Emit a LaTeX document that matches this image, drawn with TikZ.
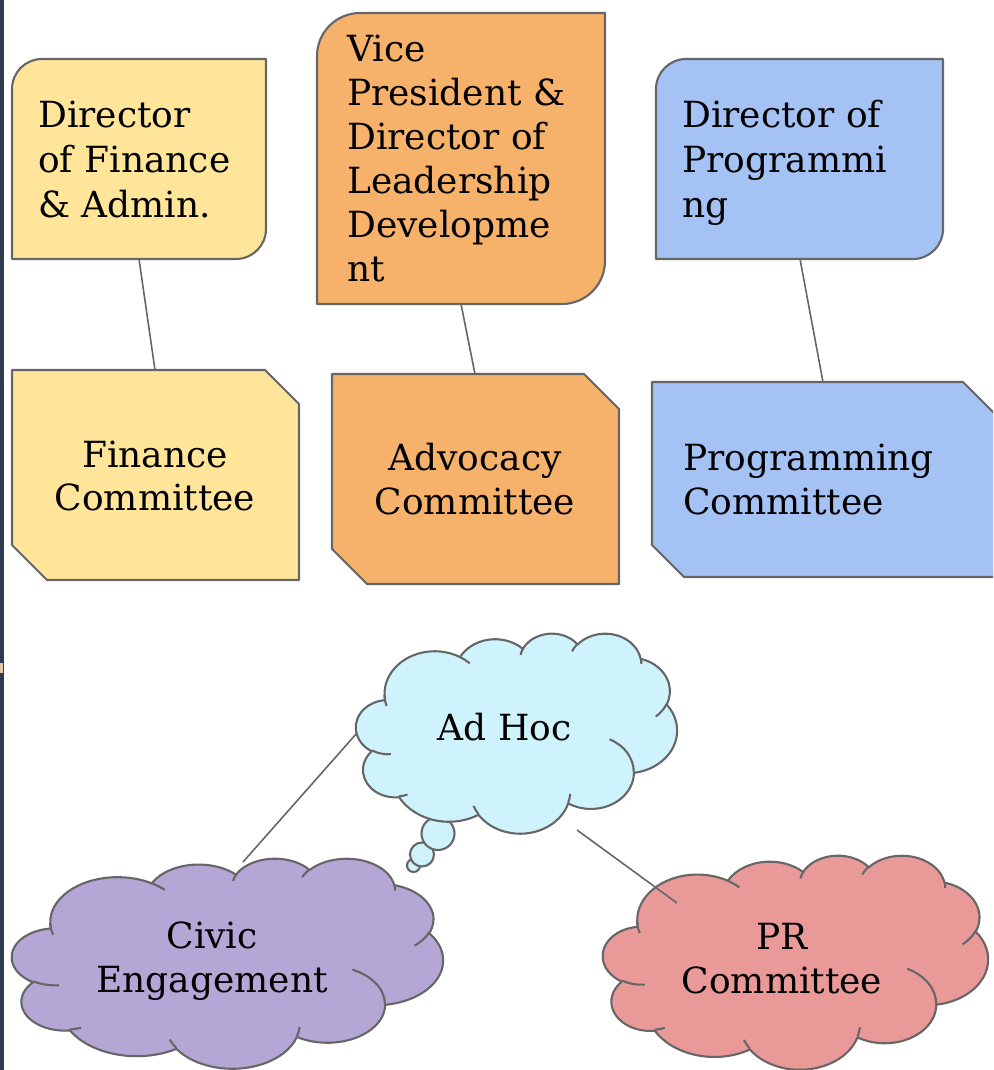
\documentclass[tikz,border=0pt]{standalone}
\usepackage{fontspec}
\setmainfont{DejaVu Serif}
\definecolor{yellowF}{HTML}{FFE599}
\definecolor{orangeF}{HTML}{F6B26B}
\definecolor{blueF}{HTML}{A4C2F4}
\definecolor{cyanF}{HTML}{CFF3FC}
\definecolor{purpleF}{HTML}{B4A7D6}
\definecolor{redF}{HTML}{EA9999}
\definecolor{lineC}{HTML}{666666}
\definecolor{stripC}{HTML}{2E3A4F}
\definecolor{beigeC}{HTML}{E6C8A6}
% visual (OOXML) angles -> parametric angles for elliptical arcs
\newcommand\ooang[5]{%
  \pgfmathsetmacro\ooTs{atan2((#2)*sin(#4),(#3)*cos(#4))}%
  \pgfmathsetmacro\ooTe{atan2((#2)*sin((#4)+(#5)),(#3)*cos((#4)+(#5)))}%
  \pgfmathsetmacro\ooTe{(\ooTe<\ooTs)?(\ooTe+360):(\ooTe)}%
  \expandafter\let\csname ooS#1\endcsname\ooTs
  \expandafter\let\csname ooE#1\endcsname\ooTe}
\ooang{a}{67.53}{91.90}{-190.4875}{123.7805}
\ooang{b}{53.33}{72.67}{-144.1024}{89.9452}
\ooang{c}{43.65}{59.45}{-145.8079}{99.7230}
\ooang{d}{48.57}{65.95}{-130.9861}{117.2417}
\ooang{e}{53.33}{72.73}{-78.7089}{109.0269}
\ooang{f}{67.75}{92.20}{-46.2673}{130.2690}
\ooang{g}{57.85}{78.67}{0.6250}{114.0333}
\ooang{h}{67.52}{92.15}{22.4516}{115.1726}
\ooang{i}{77.20}{105.43}{66.2426}{75.7110}
\ooang{j}{43.60}{59.18}{-274.9421}{146.7356}
\ooang{k}{43.45}{59.45}{-246.8285}{152.5189}
\ooang{l}{43.45}{59.45}{86.7420}{26.4295}
\ooang{m}{43.60}{59.18}{73.6105}{11.4475}
\ooang{n}{67.52}{92.15}{137.6242}{14.0811}
\ooang{o}{67.52}{92.15}{6.4533}{15.9984}
\ooang{p}{57.85}{78.67}{-70.2924}{70.9174}
\ooang{q}{53.33}{72.73}{30.3180}{27.7515}
\ooang{r}{48.57}{65.95}{-13.7443}{14.8589}
\ooang{s}{48.57}{65.95}{-149.1815}{18.1954}
\ooang{t}{43.65}{59.45}{-163.4943}{17.6864}
\ooang{u}{67.53}{91.90}{-66.7070}{12.3194}
\ooang{v}{67.53}{91.90}{156.6201}{20.6070}
\newcommand\cloudmain{(39.00,143.70)
 arc[start angle=\ooSa,end angle=\ooEa,x radius=67.53,y radius=91.90]
 arc[start angle=\ooSb,end angle=\ooEb,x radius=53.33,y radius=72.67]
 arc[start angle=\ooSc,end angle=\ooEc,x radius=43.65,y radius=59.45]
 arc[start angle=\ooSd,end angle=\ooEd,x radius=48.57,y radius=65.95]
 arc[start angle=\ooSe,end angle=\ooEe,x radius=53.33,y radius=72.73]
 arc[start angle=\ooSf,end angle=\ooEf,x radius=67.75,y radius=92.20]
 arc[start angle=\ooSg,end angle=\ooEg,x radius=57.85,y radius=78.67]
 arc[start angle=\ooSh,end angle=\ooEh,x radius=67.52,y radius=92.15]
 arc[start angle=\ooSi,end angle=\ooEi,x radius=77.20,y radius=105.43]
 arc[start angle=\ooSj,end angle=\ooEj,x radius=43.60,y radius=59.18]
 arc[start angle=\ooSk,end angle=\ooEk,x radius=43.45,y radius=59.45]
 -- cycle}
\newcommand\cloudinner{
 (46.93,261.77) arc[start angle=\ooSl,end angle=\ooEl,x radius=43.45,y radius=59.45]
 (69.28,348.99) arc[start angle=\ooSm,end angle=\ooEm,x radius=43.60,y radius=59.18]
 (164.78,390.90) arc[start angle=\ooSn,end angle=\ooEn,x radius=67.52,y radius=92.15]
 (288.27,347.51) arc[start angle=\ooSo,end angle=\ooEo,x radius=67.52,y radius=92.15]
 (341.29,229.54) arc[start angle=\ooSp,end angle=\ooEp,x radius=57.85,y radius=78.67]
 (417.98,153.54) arc[start angle=\ooSq,end angle=\ooEq,x radius=53.33,y radius=72.73]
 (383.24,54.26) arc[start angle=\ooSr,end angle=\ooEr,x radius=48.57,y radius=65.95]
 (290.78,39.52) arc[start angle=\ooSs,end angle=\ooEs,x radius=48.57,y radius=65.95]
 (221.41,47.20) arc[start angle=\ooSt,end angle=\ooEt,x radius=43.65,y radius=59.45]
 (140.00,51.92) arc[start angle=\ooSu,end angle=\ooEu,x radius=67.53,y radius=91.90]
 (41.27,157.89) arc[start angle=\ooSv,end angle=\ooEv,x radius=67.53,y radius=91.90]}
% x0, y0, width, height, fill
\newcommand\drawcloud[5]{%
  \begin{scope}[shift={(#1,#2)},xscale=#3/432,yscale=#4/432]
    \filldraw[shapeline,fill=#5] \cloudmain;
    \draw[shapeline] \cloudinner;
  \end{scope}}
\begin{document}
\begin{tikzpicture}[x=1pt,y=-1pt,
  shapeline/.style={draw=lineC,line width=2.1pt,line join=round},
  conn/.style={draw=lineC,line width=1.6pt},
  lbl/.style={inner sep=0pt,font=\fontsize{36}{44}\selectfont,text=black}]
\useasboundingbox (0,0) rectangle (993,1070);
\clip (0,0) rectangle (993,1070);
\fill[stripC] (0,0) rectangle (4,1070);
\fill[beigeC] (0,663) rectangle (3,673);

% ---- top boxes (rounded top-left and bottom-right corners)
\filldraw[shapeline,fill=yellowF] (12,259) -- (12,89) arc[start angle=180,end angle=270,radius=30]
  -- (266,59) -- (266,229) arc[start angle=0,end angle=90,radius=30] -- cycle;
\filldraw[shapeline,fill=orangeF] (317,304) -- (317,56) arc[start angle=180,end angle=270,radius=43]
  -- (605,13) -- (605,261) arc[start angle=0,end angle=90,radius=43] -- cycle;
\filldraw[shapeline,fill=blueF] (656,259) -- (656,89) arc[start angle=180,end angle=270,radius=30]
  -- (943,59) -- (943,229) arc[start angle=0,end angle=90,radius=30] -- cycle;

% ---- committee boxes (snipped corners)
\filldraw[shapeline,fill=yellowF] (12,370) -- (265,370) -- (299,404) -- (299,580) -- (47,580) -- (12,545) -- cycle;
\filldraw[shapeline,fill=orangeF] (332,374) -- (584,374) -- (619,409) -- (619,584) -- (367,584) -- (332,549) -- cycle;
\filldraw[shapeline,fill=blueF] (652,382) -- (963,382) -- (996,415) -- (996,577) -- (684,577) -- (652,545) -- cycle;

% ---- connector end points
\coordinate (dfaB) at (139,259);
\coordinate (fcT) at (155,370);
\coordinate (vpB) at (461,304);
\coordinate (acT) at (475,374);
\coordinate (dpB) at (800,259);
\coordinate (pcT) at (823,382);
\coordinate (ahL) at (357,733);
\coordinate (ceT) at (243,862);
\coordinate (ahR) at (577,830);
\coordinate (prT) at (677,903);

\draw[conn] (dfaB) -- (fcT);
\draw[conn] (vpB) -- (acT);
\draw[conn] (dpB) -- (pcT);

% ---- clouds
\filldraw[shapeline,fill=cyanF] (413.5,865.5) circle[radius=6.5];
\filldraw[shapeline,fill=cyanF] (422,854.5) circle[radius=12];
\filldraw[shapeline,fill=cyanF] (438,833.5) circle[radius=16.5];
\drawcloud{356}{633}{321}{200}{cyanF}
\drawcloud{12}{858}{431}{210}{purpleF}
\drawcloud{603}{855}{385}{214}{redF}

\draw[conn] (ahL) -- (ceT);
\draw[conn] (ahR) -- (prT);

% ---- texts
\node[lbl,anchor=base west] (dfa1) at (38,128) {Director};
\node[lbl,anchor=base west] (dfa2) at (38,172.5) {of Finance};
\node[lbl,anchor=base west] (dfa3) at (38,217) {\& Admin.};

\node[lbl,anchor=base west] (vp1) at (347,61.5) {Vice};
\node[lbl,anchor=base west] (vp2) at (347,105.4) {President \&};
\node[lbl,anchor=base west] (vp3) at (347,149.3) {Director of};
\node[lbl,anchor=base west] (vp4) at (347,193.2) {Leadership};
\node[lbl,anchor=base west] (vp5) at (347,237.1) {Developme};
\node[lbl,anchor=base west] (vp6) at (347,281) {nt};

\node[lbl,anchor=base west] (dp1) at (682,128) {Director of};
\node[lbl,anchor=base west] (dp2) at (682,172.5) {Programmi};
\node[lbl,anchor=base west] (dp3) at (682,217) {ng};

\node[lbl,anchor=base] (fc1) at (155,467) {Finance};
\node[lbl,anchor=base] (fc2) at (155,510) {Committee};

\node[lbl,anchor=base] (ac1) at (475,470) {Advocacy};
\node[lbl,anchor=base] (ac2) at (475,514) {Committee};

\node[lbl,anchor=base west] (pc1) at (683,470.5) {Programming};
\node[lbl,anchor=base west] (pc2) at (683,514) {Committee};

\node[lbl,anchor=base] (ah) at (504.5,740.5) {Ad Hoc};
\node[lbl,anchor=base] (ce1) at (212,948) {Civic};
\node[lbl,anchor=base] (ce2) at (212,992) {Engagement};
\node[lbl,anchor=base] (pr1) at (782,949) {PR};
\node[lbl,anchor=base] (pr2) at (782,993) {Committee};
\end{tikzpicture}
\end{document}
